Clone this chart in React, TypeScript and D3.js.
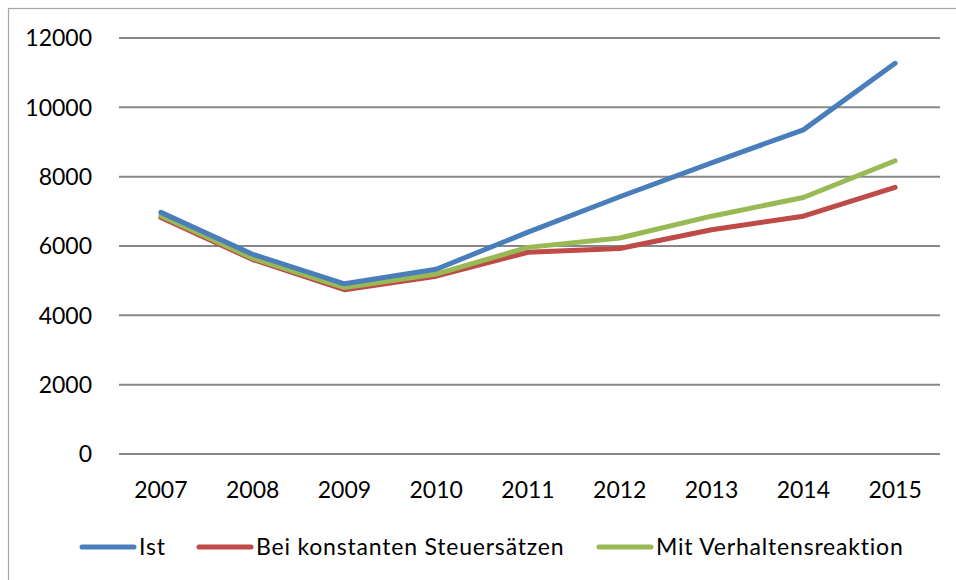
import React, { useEffect, useRef } from "react";
import * as d3 from "d3";

const years = ["2007", "2008", "2009", "2010", "2011", "2012", "2013", "2014", "2015"];
const ist = [6970, 5760, 4910, 5330, 6400, 7420, 8400, 9350, 11270];
const konstant = [6820, 5610, 4740, 5130, 5820, 5930, 6470, 6860, 7690];
const verhalten = [6870, 5650, 4800, 5190, 5960, 6230, 6860, 7400, 8460];
const yTicks = [0, 2000, 4000, 6000, 8000, 10000, 12000];

const seriesNames = ["Ist", "Bei konstanten Steuersätzen", "Mit Verhaltensreaktion"];
const seriesColors = ["#4A7EBB", "#BE4B48", "#98B954"];

const W = 956;
const H = 580;

const App = () => {
  const svgRef = useRef<SVGSVGElement>(null);

  useEffect(() => {
    const svg = d3.select(svgRef.current);
    svg.selectAll("*").remove();

    const font = "Lato, 'Open Sans', sans-serif";
    const left = 115;
    const right = 941;
    const top = 38;
    const bottom = 454;

    // outer frame
    svg
      .append("rect")
      .attr("x", 8.5)
      .attr("y", 8.5)
      .attr("width", W + 10)
      .attr("height", H + 10)
      .attr("fill", "#fff")
      .attr("stroke", "#a6a6a6")
      .attr("stroke-width", 1.2);

    const x = d3.scaleBand().domain(years).range([left, right]);
    const y = d3.scaleLinear().domain([0, 12000]).range([bottom, top]);

    // gridlines
    svg
      .selectAll(".grid")
      .data(yTicks)
      .join("line")
      .attr("x1", 119)
      .attr("x2", 940)
      .attr("y1", (d) => y(d))
      .attr("y2", (d) => y(d))
      .attr("stroke", "#878787")
      .attr("stroke-width", 2);

    // y labels
    svg
      .selectAll(".ylab")
      .data(yTicks)
      .join("text")
      .attr("x", 92)
      .attr("y", (d) => y(d))
      .attr("dy", "0.36em")
      .attr("text-anchor", "end")
      .style("font-family", font)
      .style("font-size", "23px")
      .attr("fill", "#000")
      .text((d) => d);

    // x labels
    svg
      .selectAll(".xlab")
      .data(years)
      .join("text")
      .attr("x", (d) => x(d)! + x.bandwidth() / 2)
      .attr("y", 498)
      .attr("text-anchor", "middle")
      .style("font-family", font)
      .style("font-size", "23px")
      .attr("fill", "#000")
      .text((d) => d);

    const line = d3
      .line<number>()
      .x((_, i) => x(years[i])! + x.bandwidth() / 2)
      .y((d) => y(d));

    const allSeries = [ist, konstant, verhalten];
    // red first, then green over it, blue on top
    [1, 2, 0].forEach((k) => {
      svg
        .append("path")
        .datum(allSeries[k])
        .attr("d", line)
        .attr("fill", "none")
        .attr("stroke", seriesColors[k])
        .attr("stroke-width", 5)
        .attr("stroke-linecap", "round")
        .attr("stroke-linejoin", "round");
    });

    // legend
    const legendX = [80, 197, 597];
    const ly = 547;
    seriesNames.forEach((name, i) => {
      svg
        .append("line")
        .attr("x1", legendX[i] + 2)
        .attr("x2", legendX[i] + 54)
        .attr("y1", ly)
        .attr("y2", ly)
        .attr("stroke", seriesColors[i])
        .attr("stroke-width", 5)
        .attr("stroke-linecap", "round");
      svg
        .append("text")
        .attr("x", legendX[i] + 59)
        .attr("y", ly)
        .attr("dy", "0.36em")
        .style("font-family", font)
        .style("font-size", "23px")
        .style("letter-spacing", "0.8px")
        .attr("fill", "#000")
        .text(name);
    });
  }, []);

  return (
    <svg
      ref={svgRef}
      width={W}
      height={H}
      style={{ position: "fixed", left: 0, top: 0, background: "#fff" }}
    />
  );
};

export default App;
